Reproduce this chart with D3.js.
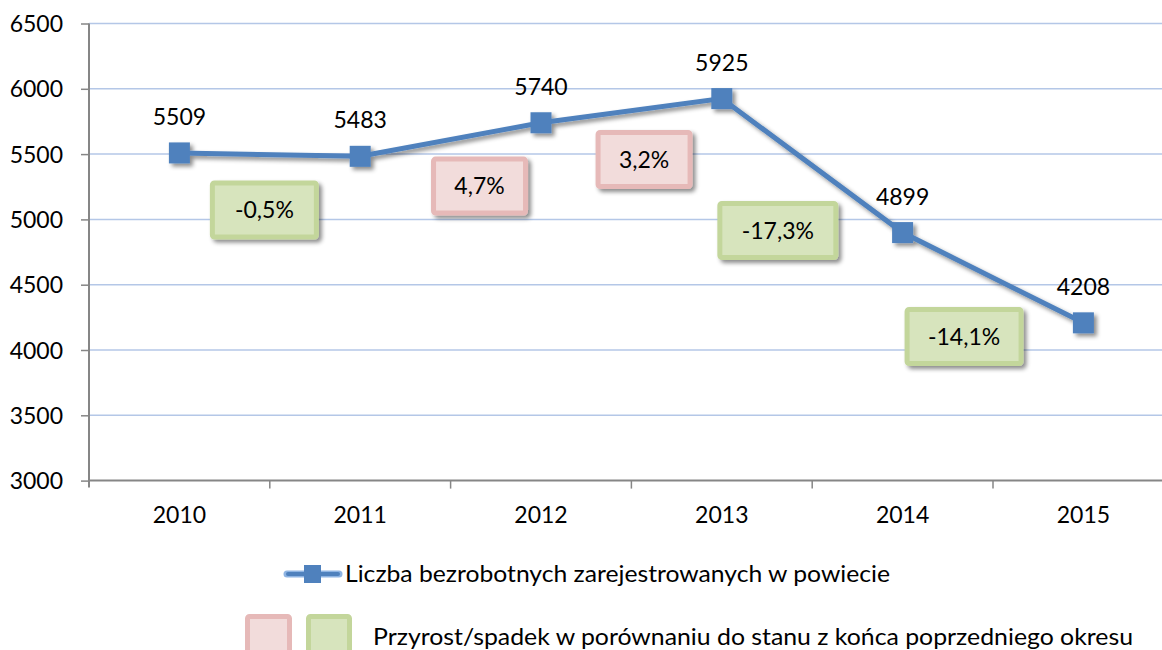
<!DOCTYPE html>
<html>
<head>
<meta charset="utf-8">
<script src="https://cdn.jsdelivr.net/npm/d3@7"></script>
<style>
  body { margin: 0; background: #fff; }
  svg text { font-family: Lato, "Open Sans", sans-serif; fill: #000; }
</style>
</head>
<body>
<svg id="chart"></svg>
<script>
// data
var years = ["2010", "2011", "2012", "2013", "2014", "2015"];
var unemployed = [5509, 5483, 5740, 5925, 4899, 4208];
var changeLabels = ["-0,5%", "4,7%", "3,2%", "-17,3%", "-14,1%"];
var yTicks = [3000, 3500, 4000, 4500, 5000, 5500, 6000, 6500];
// where each change box sits: category index and value level
var boxIndex = [0.47, 1.66, 2.57, 3.31, 4.34];
var boxLevel = [5072, 5255, 5459, 4915, 4103];
var seriesName = "Liczba bezrobotnych zarejestrowanych w powiecie";
var boxName = "Przyrost/spadek w porównaniu do stanu z końca poprzedniego okresu";

var width = 1162, height = 650;
var fs = "23px";
var svg = d3.select("#chart").attr("width", width).attr("height", height);

var padLeft = 89, padTop = 23.5, axisY = 480.6;
var x = d3.scaleBand().domain(years).range([padLeft, padLeft + 6 * 180.8]);
var y = d3.scaleLinear().domain([3000, 6500]).range([axisY, padTop]);
var blue = "#4f81bd";

//Shadow filter for line, markers and boxes
var defs = svg.append("defs");
var f = defs.append("filter").attr("id", "shadow")
    .attr("x", "-20%").attr("y", "-20%").attr("width", "150%").attr("height", "160%");
f.append("feDropShadow").attr("dx", 3).attr("dy", 3).attr("stdDeviation", 2)
    .attr("flood-color", "#000").attr("flood-opacity", 0.45);

//Gridlines
svg.append("g").selectAll("line")
    .data(yTicks.slice(1))
    .join("line")
      .attr("x1", padLeft).attr("x2", width)
      .attr("y1", d => y(d)).attr("y2", d => y(d))
      .attr("stroke", "#b4c7e7").attr("stroke-width", 1.5);

//Y axis
var yAxis = d3.axisLeft(y).tickValues(yTicks).tickSize(8).tickPadding(18).tickFormat(d3.format("d"));
var gy = svg.append("g").attr("transform", "translate(" + padLeft + ",0)").call(yAxis);
gy.select(".domain").attr("stroke", "#868686").attr("stroke-width", 2).attr("d", "M0," + (axisY + 7) + "V" + padTop);
gy.selectAll(".tick line").attr("stroke", "#868686").attr("stroke-width", 1.5);
gy.selectAll(".tick text").style("font-size", fs).attr("dy", "0.35em");

//X axis with ticks between categories
var gx = svg.append("g").attr("transform", "translate(0," + axisY + ")");
gx.append("line").attr("x1", padLeft).attr("x2", width).attr("stroke", "#868686").attr("stroke-width", 2);
gx.selectAll(".xtick")
    .data(years)
    .join("line")
      .attr("x1", d => x(d) + x.bandwidth()).attr("x2", d => x(d) + x.bandwidth())
      .attr("y1", 0).attr("y2", 8)
      .attr("stroke", "#868686").attr("stroke-width", 1.5);
gx.selectAll("text")
    .data(years)
    .join("text")
      .attr("x", d => x(d) + x.bandwidth() / 2)
      .attr("y", 42)
      .attr("text-anchor", "middle")
      .style("font-size", fs)
      .text(d => d);

//Change boxes
var boxW = [104, 92, 92, 116, 114], boxH = 54;
var boxes = svg.append("g").selectAll("g")
    .data(changeLabels)
    .join("g")
      .attr("transform", (d, i) => "translate(" + (x(years[0]) + x.bandwidth() / 2 + boxIndex[i] * x.step()) + "," + y(boxLevel[i]) + ")");
boxes.append("rect")
    .attr("x", (d, i) => -boxW[i] / 2).attr("y", -boxH / 2)
    .attr("width", (d, i) => boxW[i]).attr("height", boxH)
    .attr("rx", 2)
    .attr("fill", d => d[0] === "-" ? "#d7e4bd" : "#f2dcdb")
    .attr("stroke", d => d[0] === "-" ? "#c3d69b" : "#e6b9b8")
    .attr("stroke-width", 5)
    .attr("filter", "url(#shadow)");
boxes.append("text")
    .attr("text-anchor", "middle").attr("dy", "0.36em")
    .style("font-size", fs)
    .text(d => d);

//Line and markers
var line = d3.line().x((d, i) => x(years[i]) + x.bandwidth() / 2).y(d => y(d));
var series = svg.append("g").attr("filter", "url(#shadow)");
series.append("path")
    .datum(unemployed)
    .attr("d", line)
    .attr("fill", "none").attr("stroke", blue).attr("stroke-width", 5);
series.selectAll("rect")
    .data(unemployed)
    .join("rect")
      .attr("x", (d, i) => x(years[i]) + x.bandwidth() / 2 - 10.5)
      .attr("y", d => y(d) - 10.5)
      .attr("width", 21).attr("height", 21)
      .attr("fill", blue);

//Value labels
svg.append("g").selectAll("text")
    .data(unemployed)
    .join("text")
      .attr("x", (d, i) => x(years[i]) + x.bandwidth() / 2)
      .attr("y", d => y(d) - 28)
      .attr("text-anchor", "middle")
      .style("font-size", fs)
      .text(d => d);

//Legend row 1: series
var lg = svg.append("g");
lg.append("line").attr("x1", 287).attr("x2", 339).attr("y1", 574).attr("y2", 574)
    .attr("stroke", "#8eb4e3").attr("stroke-width", 7).attr("stroke-linecap", "round");
lg.append("line").attr("x1", 288).attr("x2", 338).attr("y1", 574).attr("y2", 574)
    .attr("stroke", blue).attr("stroke-width", 4).attr("stroke-linecap", "round");
lg.append("rect").attr("x", 304).attr("y", 565).attr("width", 17).attr("height", 18).attr("fill", blue);
lg.append("text").attr("x", 345).attr("y", 582)
    .style("font-size", fs)
    .attr("textLength", 545).attr("lengthAdjust", "spacingAndGlyphs")
    .text(seriesName);

//Legend row 2: change boxes
lg.append("rect").attr("x", 247.5).attr("y", 616.5).attr("width", 42).attr("height", 42)
    .attr("fill", "#f2dcdb").attr("stroke", "#e6b9b8").attr("stroke-width", 5).attr("rx", 2);
lg.append("rect").attr("x", 308.5).attr("y", 616.5).attr("width", 41).attr("height", 42)
    .attr("fill", "#d7e4bd").attr("stroke", "#c3d69b").attr("stroke-width", 5).attr("rx", 2);
lg.append("text").attr("x", 373).attr("y", 645)
    .style("font-size", fs)
    .attr("textLength", 760).attr("lengthAdjust", "spacingAndGlyphs")
    .text(boxName);
</script>
</body>
</html>
